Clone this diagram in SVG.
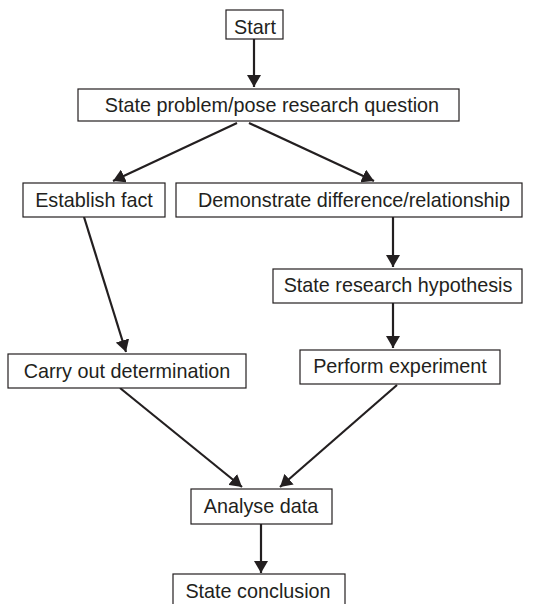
<svg xmlns="http://www.w3.org/2000/svg" width="533" height="604" viewBox="0 0 533 604">
<defs>
<marker id="arr" markerUnits="userSpaceOnUse" markerWidth="13" markerHeight="14" refX="12" refY="7" orient="auto">
<path d="M0,0 L12,7 L0,14 z" fill="#231f20"/>
</marker>
<style>
.box{fill:#fff;stroke:#231f20;stroke-width:1.2}
.lbl{font-family:"Liberation Sans",Arial,sans-serif;font-size:19.8px;fill:#231f20;text-anchor:middle}
.edge{stroke:#231f20;stroke-width:2.2;fill:none;marker-end:url(#arr)}
</style>
</defs>
<rect width="533" height="604" fill="#fff"/>
<g id="connectors">
<line class="edge" x1="254" y1="39" x2="254" y2="87"/>
<line class="edge" x1="237" y1="123" x2="113" y2="181"/>
<line class="edge" x1="249" y1="123" x2="374" y2="181"/>
<line class="edge" x1="84" y1="217" x2="126" y2="352"/>
<line class="edge" x1="393" y1="217" x2="393" y2="267"/>
<line class="edge" x1="393" y1="303" x2="393" y2="348"/>
<line class="edge" x1="120" y1="388" x2="242" y2="487"/>
<line class="edge" x1="397" y1="385" x2="280" y2="487"/>
<line class="edge" x1="261" y1="524" x2="261" y2="573"/>
</g>
<g id="start"><rect class="box" x="226" y="10" width="57" height="29"/><text class="lbl" x="255" y="34">Start</text></g>
<g id="state-problem"><rect class="box" x="78" y="89" width="381" height="32"/><text class="lbl" x="272" y="112">State problem/pose research question</text></g>
<g id="establish-fact"><rect class="box" x="23" y="183" width="142" height="34"/><text class="lbl" x="94" y="207">Establish fact</text></g>
<g id="demonstrate"><rect class="box" x="176" y="183" width="346" height="34"/><text class="lbl" x="354" y="207">Demonstrate difference/relationship</text></g>
<g id="hypothesis"><rect class="box" x="273" y="269" width="249" height="34"/><text class="lbl" x="398" y="292">State research hypothesis</text></g>
<g id="carry-out"><rect class="box" x="8" y="354" width="238" height="34"/><text class="lbl" x="127" y="378">Carry out determination</text></g>
<g id="experiment"><rect class="box" x="300" y="350" width="200" height="34"/><text class="lbl" x="400" y="373">Perform experiment</text></g>
<g id="analyse"><rect class="box" x="191" y="489" width="141" height="35"/><text class="lbl" x="261" y="513">Analyse data</text></g>
<g id="conclusion"><rect class="box" x="173" y="574" width="172" height="40"/><text class="lbl" x="258" y="598">State conclusion</text></g>
</svg>
